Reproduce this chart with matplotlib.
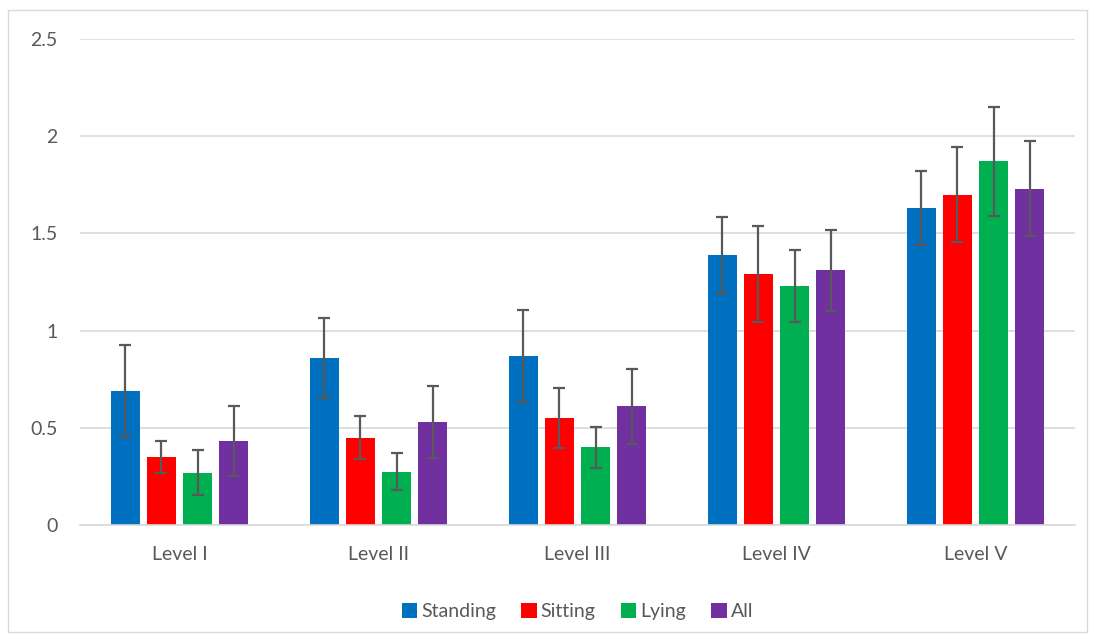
import numpy as np
import matplotlib.pyplot as plt
from matplotlib.patches import Rectangle

levels = ["Level I", "Level II", "Level III", "Level IV", "Level V"]
series = ["Standing", "Sitting", "Lying", "All"]
colors = ["#0070C0", "#FF0000", "#00B050", "#7030A0"]

standing = [0.69, 0.86, 0.87, 1.39, 1.63]
sitting = [0.35, 0.45, 0.55, 1.29, 1.70]
lying = [0.27, 0.275, 0.40, 1.23, 1.87]
all_ = [0.43, 0.53, 0.61, 1.31, 1.73]

standing_err = [0.237, 0.207, 0.237, 0.195, 0.19]
sitting_err = [0.08, 0.11, 0.155, 0.246, 0.246]
lying_err = [0.115, 0.095, 0.106, 0.185, 0.28]
all_err = [0.18, 0.186, 0.195, 0.21, 0.245]

values = [standing, sitting, lying, all_]
errors = [standing_err, sitting_err, lying_err, all_err]

plt.rcParams['font.family'] = ['Lato', 'DejaVu Sans']

fig = plt.figure(figsize=(10.95, 6.39), dpi=100)
ax = fig.add_axes([80 / 1095, 1 - 525 / 639, 995 / 1095, 486 / 639])

x = np.arange(len(levels))
w = 0.143
step = 0.181
for i, (name, vals, errs) in enumerate(zip(series, values, errors)):
    pos = x + (i - 1.5) * step
    ax.bar(pos, vals, width=w, color=colors[i], label=name, zorder=2)
    ax.errorbar(pos, vals, yerr=errs, fmt='none', ecolor='#595959',
                elinewidth=1.6, capsize=4.5, capthick=1.6, zorder=3)

ax.set_xlim(-0.5, len(levels) - 0.5)
ax.set_ylim(0, 2.5)
ax.set_yticks([0, 0.5, 1, 1.5, 2, 2.5])
ax.set_yticklabels(["0", "0.5", "1", "1.5", "2", "2.5"])
ax.set_xticks(x)
ax.set_xticklabels(levels)
ax.yaxis.grid(True, color='#D9D9D9', linewidth=1.2, zorder=0)
ax.set_axisbelow(True)
for s in ['top', 'right', 'left']:
    ax.spines[s].set_visible(False)
ax.spines['bottom'].set_color('#D9D9D9')
ax.spines['bottom'].set_linewidth(1.2)
ax.tick_params(axis='both', length=0, labelsize=14, colors='#595959')
ax.tick_params(axis='y', pad=16)
ax.tick_params(axis='x', pad=15)

ax.legend(loc='upper center', bbox_to_anchor=(0.5, -0.125), ncol=4, frameon=False,
          fontsize=14, labelcolor='#595959', handlelength=0.8, handleheight=0.8,
          handletextpad=0.2, columnspacing=1.3)

fig.patches.append(Rectangle((8 / 1095, 1 - 632 / 639), 1079 / 1095, 622 / 639,
                             transform=fig.transFigure, fill=False,
                             edgecolor='#D9D9D9', linewidth=1))

fig.savefig("out.png", dpi=100)
